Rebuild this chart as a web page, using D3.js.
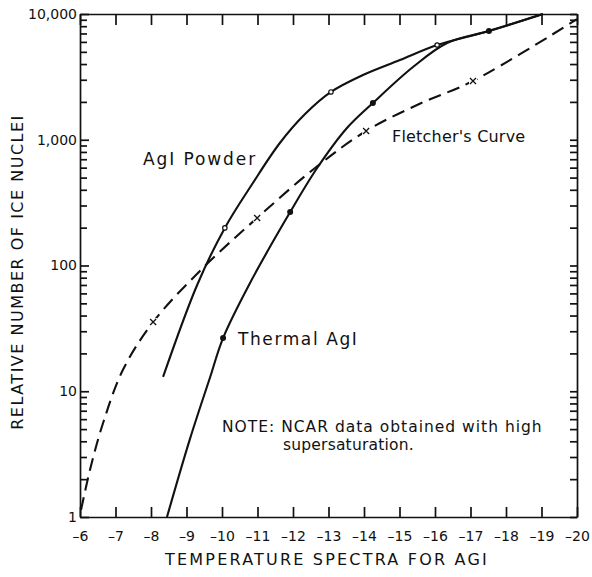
<!DOCTYPE html>
<html>
<head>
<meta charset="utf-8">
<script src="https://cdn.jsdelivr.net/npm/d3@7"></script>
<style>
  body { margin: 0; background: #fff; }
  svg text { font-family: "DejaVu Sans", sans-serif; fill: #111; }
</style>
</head>
<body>
<svg id="chart" width="592" height="577"></svg>
<script>
// temperature (deg C) on x, relative number of ice nuclei on y (log)
const temp_ticks = d3.range(-6, -21, -1);
const y_major = [1, 10, 100, 1000, 10000];
const y_labels = ["1", "10", "100", "1,000", "10,000"];

// AgI powder (solid, open circles)
const powder_t = [-8.34, -9.30, -10.08, -10.87, -11.63, -12.34, -13.07, -13.97, -15.01, -16.06, -17.52, -19.04];
const powder_n = [13, 70, 199, 453, 942, 1600, 2400, 3270, 4300, 5670, 7330, 10000];
const powder_marks_t = [-10.08, -13.07, -16.06];
const powder_marks_n = [199, 2400, 5670];

// Thermal AgI (solid, filled dots)
const thermal_t = [-8.45, -9.10, -9.66, -10.03, -10.79, -11.92, -12.68, -13.52, -14.25, -15.38, -16.34, -17.52, -19.04];
const thermal_n = [1, 4.2, 12.8, 26.5, 72.6, 266, 596, 1240, 1960, 3790, 5880, 7330, 10000];
const thermal_marks_t = [-10.03, -11.92, -14.25, -17.52];
const thermal_marks_n = [26.5, 266, 1960, 7330];

// Fletcher's curve (dashed, x marks)
const fletcher_t = [-6.03, -6.28, -6.65, -7.21, -8.06, -9.46, -10.99, -12.62, -14.06, -15.6, -17.07, -20.0];
const fletcher_n = [1.14, 2.36, 5.59, 14.8, 35.5, 95.5, 239, 596, 1174, 1950, 2930, 9100];
const fletcher_marks_t = [-8.06, -10.99, -14.06, -17.07];
const fletcher_marks_n = [35.5, 239, 1174, 2930];

const width = 592, height = 577;
const margin = {top: 14, right: 15, bottom: 60, left: 80};

const svg = d3.select('#chart');

const x = d3.scaleLinear()
	.domain([-6, -20])
	.range([margin.left, width - margin.right]);

const y = d3.scaleLog()
	.domain([1, 10000])
	.range([height - margin.bottom, margin.top]);

// minor ticks 1..9 in every decade
let y_minor = [];
for (let k = 0; k < 4; k++) {
	for (let m = 1; m < 10; m++) y_minor.push(m * Math.pow(10, k));
}
y_minor.push(10000);

function label_y(d) {
	const i = y_major.indexOf(d);
	return i >= 0 ? y_labels[i] : '';
}

// bottom axis
svg.append('g')
	.attr('transform', 'translate(0,' + (height - margin.bottom) + ')')
	.call(d3.axisBottom(x)
		.tickValues(temp_ticks)
		.tickSizeInner(-10)
		.tickSizeOuter(0)
		.tickPadding(14)
		.tickFormat(d => '\u2013' + Math.abs(d)));

// top axis
svg.append('g')
	.attr('transform', 'translate(0,' + margin.top + ')')
	.call(d3.axisTop(x)
		.tickValues(temp_ticks)
		.tickSizeInner(-11)
		.tickSizeOuter(0)
		.tickFormat(''));

// left axis
const left = svg.append('g')
	.attr('transform', 'translate(' + margin.left + ',0)')
	.call(d3.axisLeft(y)
		.tickValues(y_minor)
		.tickSizeInner(-7)
		.tickSizeOuter(0)
		.tickPadding(3)
		.tickFormat(label_y));

left.selectAll('.tick line')
	.attr('x2', d => y_major.indexOf(d) >= 0 ? 9 : 7);

// right axis
svg.append('g')
	.attr('transform', 'translate(' + (width - margin.right) + ',0)')
	.call(d3.axisRight(y)
		.tickValues(y_minor)
		.tickSizeInner(-7)
		.tickSizeOuter(0)
		.tickFormat(''));

svg.selectAll('.domain, .tick line')
	.attr('stroke', '#111')
	.attr('stroke-width', 1.7);

svg.selectAll('.tick text')
	.attr('fill', '#111')
	.style('font-size', '14px')
	.style('font-family', '"DejaVu Sans", sans-serif');

// curves
const line = d3.line()
	.x(d => x(d[0]))
	.y(d => y(d[1]))
	.curve(d3.curveCatmullRom.alpha(0.5));

function zip(a, b) { return a.map((v, i) => [v, b[i]]); }

svg.append('path')
	.attr('d', line(zip(powder_t, powder_n)))
	.attr('fill', 'none')
	.attr('stroke', '#111')
	.attr('stroke-width', 2.1);

svg.append('path')
	.attr('d', line(zip(thermal_t, thermal_n)))
	.attr('fill', 'none')
	.attr('stroke', '#111')
	.attr('stroke-width', 2.1);

svg.append('path')
	.attr('d', line(zip(fletcher_t, fletcher_n)))
	.attr('fill', 'none')
	.attr('stroke', '#111')
	.attr('stroke-width', 2.1)
	.attr('stroke-dasharray', '13,7');

// markers
svg.selectAll('.powder_mark')
	.data(zip(powder_marks_t, powder_marks_n))
	.enter().append('circle')
	.attr('cx', d => x(d[0]))
	.attr('cy', d => y(d[1]))
	.attr('r', 2.2)
	.attr('fill', '#fff')
	.attr('stroke', '#111')
	.attr('stroke-width', 1.2);

svg.selectAll('.thermal_mark')
	.data(zip(thermal_marks_t, thermal_marks_n))
	.enter().append('circle')
	.attr('cx', d => x(d[0]))
	.attr('cy', d => y(d[1]))
	.attr('r', 3)
	.attr('fill', '#111');

const xm = svg.selectAll('.fletcher_mark')
	.data(zip(fletcher_marks_t, fletcher_marks_n))
	.enter().append('g')
	.attr('transform', d => 'translate(' + x(d[0]) + ',' + y(d[1]) + ')');
xm.append('rect')
	.attr('x', -4).attr('y', -4).attr('width', 8).attr('height', 8)
	.attr('fill', '#fff');
xm.append('path')
	.attr('d', 'M-3,-3L3,3M3,-3L-3,3')
	.attr('stroke', '#111')
	.attr('stroke-width', 1.3);

// labels
svg.append('text')
	.attr('x', 143).attr('y', 165)
	.style('font-size', '17px')
	.style('letter-spacing', '1.9px')
	.text('AgI Powder');

svg.append('text')
	.attr('x', 238).attr('y', 345)
	.style('font-size', '17px')
	.style('letter-spacing', '1.6px')
	.text('Thermal AgI');

svg.append('text')
	.attr('x', 392).attr('y', 142)
	.style('font-size', '16px')
	.style('letter-spacing', '0.2px')
	.text("Fletcher's Curve");

svg.append('text')
	.attr('x', 222).attr('y', 432)
	.style('font-size', '15.5px')
	.style('letter-spacing', '1px')
	.text('NOTE: NCAR data obtained with high');

svg.append('text')
	.attr('x', 283).attr('y', 450)
	.style('font-size', '15.5px')
	.style('letter-spacing', '0.2px')
	.text('supersaturation.');

// axis titles
svg.append('text')
	.attr('x', 327).attr('y', 565)
	.attr('text-anchor', 'middle')
	.style('font-size', '16px')
	.style('letter-spacing', '2.2px')
	.text('TEMPERATURE SPECTRA FOR AGI');

svg.append('text')
	.attr('transform', 'translate(23,272) rotate(-90)')
	.attr('text-anchor', 'middle')
	.style('font-size', '16px')
	.style('letter-spacing', '1.5px')
	.text('RELATIVE NUMBER OF ICE NUCLEI');
</script>
</body>
</html>
